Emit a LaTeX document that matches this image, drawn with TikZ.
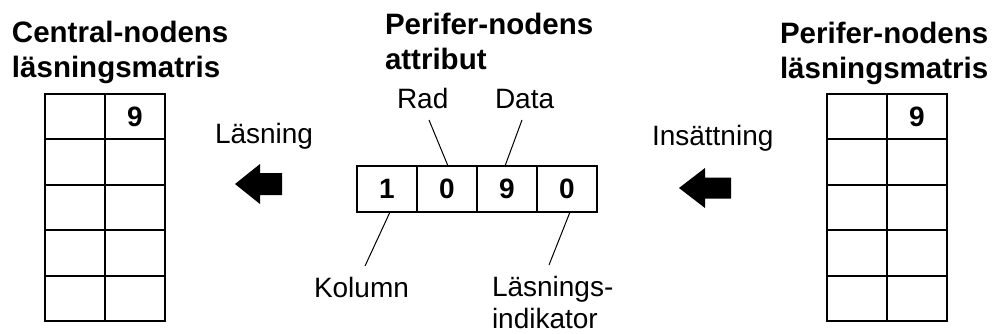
\documentclass[tikz,border=0pt]{standalone}
\usepackage{fontspec}
\setmainfont{Liberation Sans}
\begin{document}
\begin{tikzpicture}[x=1pt,y=-1pt,
  every node/.style={inner sep=0pt, outer sep=0pt},
  label/.style={font=\fontsize{28}{32}\selectfont},
  heading/.style={font=\fontsize{29.5}{35}\selectfont\bfseries, align=left, anchor=north west},
  cell/.style={draw, line width=1.9pt, minimum width=60pt, minimum height=45.4pt,
    font=\fontsize{28}{34}\selectfont\bfseries},
  attrcell/.style={cell, minimum height=46pt},
  leader/.style={line width=1pt},
  blockarrow/.style={fill=black}
]
\useasboundingbox (0,0) rectangle (995,333);

% headings
\node[heading] (hcentral) at (12,21) {Central-nodens\\läsningsmatris};
\node[heading] (hattr) at (385,13) {Perifer-nodens\\attribut};
\node[heading] (hperif) at (780,22) {Perifer-nodens\\läsningsmatris};

% central node's read matrix
\foreach \r in {1,...,5}
  \foreach \c in {1,2}
    \node[cell] (L-\r-\c) at ({45+60*(\c-0.5)},{94+45.4*(\r-0.5)}) {};
\node[font=\fontsize{28}{34}\selectfont\bfseries] (L9) at (L-1-2) {9};

% peripheral node's read matrix
\foreach \r in {1,...,5}
  \foreach \c in {1,2}
    \node[cell] (R-\r-\c) at ({827+60*(\c-0.5)},{94+45.4*(\r-0.5)}) {};
\node[font=\fontsize{28}{34}\selectfont\bfseries] (R9) at (R-1-2) {9};

% attribute record
\node[attrcell] (a1) at (387,189) {1};
\node[attrcell] (a2) at (447,189) {0};
\node[attrcell] (a3) at (507,189) {9};
\node[attrcell] (a4) at (567,189) {0};

% field labels
\node[label, anchor=base west] (rad) at (397,108) {Rad};
\node[label, anchor=base west] (data) at (495,108) {Data};
\node[label, anchor=base west] (kolumn) at (314,297) {Kolumn};
\node[label, align=left, anchor=north west] (indikator) at (492,276) {Läsnings-\\indikator};

% leader lines
\coordinate (radend) at (429,120);
\coordinate (dataend) at (522,120);
\coordinate (kolend) at (365,266);
\coordinate (indend) at (549,265);
\draw[leader] (radend) -- ([xshift=1pt]a2.north);
\draw[leader] (dataend) -- ([xshift=-2pt]a3.north);
\draw[leader] (kolend) -- ([xshift=3pt]a1.south);
\draw[leader] (indend) -- ([xshift=3pt]a4.south);

% operations
\node[label, anchor=base west] (lasning) at (215,143) {Läsning};
\node[label, anchor=base west] (insattning) at (652,145) {Insättning};

% block arrows
\fill[blockarrow] (235,184) -- (260,164) -- (260,173) -- (282,173) -- (282,195)
  -- (260,195) -- (260,204) -- cycle;
\fill[blockarrow] (679,188) -- (705,168) -- (705,177.5) -- (731,177.5) -- (731,198.5)
  -- (705,198.5) -- (705,208) -- cycle;
\end{tikzpicture}
\end{document}
